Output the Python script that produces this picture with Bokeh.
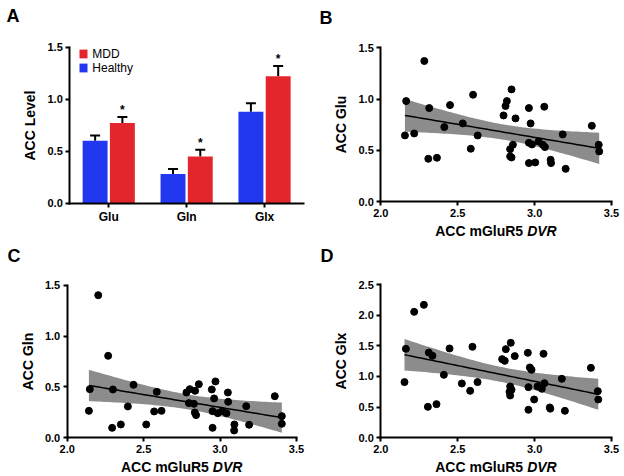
import numpy as np
from bokeh.plotting import figure
from bokeh.layouts import gridplot
from bokeh.models import (Range1d, FixedTicker, Whisker, TeeHead, ColumnDataSource,
                          Label, Legend, LegendItem, NumeralTickFormatter)
from bokeh.core.properties import value
from bokeh.embed import file_html
from bokeh.resources import INLINE

# ---------------- data ----------------
categories = ["Glu", "Gln", "Glx"]
healthy_mean = [0.60, 0.28, 0.88]
healthy_sem = [0.05, 0.05, 0.08]
mdd_mean = [0.77, 0.45, 1.22]
mdd_sem = [0.06, 0.065, 0.10]
significance = ["*", "*", "*"]

y_ticks_a = [0.0, 0.5, 1.0, 1.5]
x_ticks_scatter = [2.0, 2.5, 3.0, 3.5]
y_ticks_bc = [0.0, 0.5, 1.0, 1.5]
y_ticks_d = [0.0, 0.5, 1.0, 1.5, 2.0, 2.5]

glu_dvr = [2.283, 2.165, 2.157, 2.217, 2.315, 2.309, 2.365, 2.450, 2.413, 2.533,
           2.600, 2.630, 2.585, 2.850, 2.820, 2.811, 2.798, 2.876, 2.963, 2.974,
           3.063, 2.859, 2.841, 2.841, 2.850, 2.963, 2.983, 3.026, 3.054, 3.067,
           2.963, 3.004, 3.104, 3.107, 3.202, 3.183, 3.372, 3.417, 3.420]
glu_level = [1.371, 0.980, 0.645, 0.664, 0.912, 0.417, 0.427, 0.941, 0.726, 0.762,
             1.042, 0.645, 0.515, 1.094, 0.980, 0.932, 0.840, 0.811, 0.912, 0.762,
             0.925, 0.554, 0.511, 0.440, 0.430, 0.573, 0.557, 0.586, 0.554, 0.531,
             0.375, 0.381, 0.407, 0.375, 0.319, 0.655, 0.739, 0.554, 0.489]

gln_dvr = [2.203, 2.268, 2.148, 2.142, 2.299, 2.294, 2.351, 2.434, 2.397, 2.517,
           2.586, 2.569, 2.617, 2.780, 2.802, 2.837, 2.861, 2.796, 2.829, 2.835,
           2.843, 2.946, 2.970, 2.961, 2.951, 2.951, 2.985, 3.014, 3.042, 3.051,
           3.053, 3.094, 3.092, 3.171, 3.190, 3.358, 3.404, 3.404]
gln_level = [1.402, 0.806, 0.478, 0.265, 0.475, 0.098, 0.131, 0.521, 0.308, 0.131,
             0.452, 0.259, 0.265, 0.445, 0.478, 0.462, 0.527, 0.341, 0.334, 0.249,
             0.223, 0.475, 0.554, 0.387, 0.262, 0.098, 0.242, 0.262, 0.242, 0.445,
             0.354, 0.131, 0.072, 0.311, 0.128, 0.409, 0.213, 0.138]

glx_dvr = [2.280, 2.217, 2.163, 2.154, 2.312, 2.336, 2.306, 2.362, 2.447, 2.410,
           2.527, 2.596, 2.629, 2.581, 2.845, 2.813, 2.789, 2.806, 2.871, 2.956,
           2.969, 2.980, 3.058, 2.841, 2.850, 2.837, 2.841, 2.960, 3.019, 3.047,
           3.064, 2.997, 2.960, 3.099, 3.102, 3.197, 3.177, 3.366, 3.411, 3.414]
glx_level = [2.168, 2.054, 1.451, 0.908, 1.391, 1.337, 0.505, 0.549, 1.457, 1.027,
             0.886, 1.484, 0.908, 0.766, 1.549, 1.446, 1.283, 1.255, 1.332, 1.386,
             1.147, 1.109, 1.370, 0.837, 0.783, 0.750, 0.690, 0.826, 0.837, 0.799,
             0.891, 0.625, 0.457, 0.495, 0.475, 0.440, 0.962, 1.141, 0.761, 0.625]

# ---------------- style ----------------
FONT = "Liberation Sans"
RED = "#e3262b"
BLUE = "#2238f0"
BAND = "#8c8c8c"
T95 = 2.02
TICK_FS = "11px"
LABEL_FS = "14px"


def make_panel(W, H, box, xlim, ylim):
    """Figure whose frame is the whole canvas; the data box sits at `box` (l, t, r, b px)."""
    l, t, r, b = box
    sx = (r - l) / (xlim[1] - xlim[0])
    sy = (b - t) / (ylim[1] - ylim[0])
    xr = Range1d(xlim[0] - l / sx, xlim[1] + (W - r) / sx)
    yr = Range1d(ylim[0] - (H - b) / sy, ylim[1] + t / sy)
    p = figure(width=W, height=H, x_range=xr, y_range=yr, min_border=0,
               output_backend="svg", toolbar_location=None)
    p.xaxis.fixed_location = ylim[0]
    p.xaxis.bounds = xlim
    p.yaxis.fixed_location = xlim[0]
    p.yaxis.bounds = ylim
    for ax in (p.xaxis[0], p.yaxis[0]):
        ax.axis_line_width = 2
        ax.axis_line_color = "black"
        ax.axis_line_cap = "square"
        ax.major_tick_line_width = 2
        ax.major_tick_line_color = "black"
        ax.major_tick_out = 4
        ax.major_tick_in = 0
        ax.minor_tick_line_color = None
        ax.major_label_text_font = FONT
        ax.major_label_text_font_style = "bold"
        ax.major_label_text_font_size = TICK_FS
        ax.major_label_text_color = "black"
        ax.major_label_standoff = 3
        ax.axis_label_text_font = FONT
        ax.axis_label_text_font_style = "bold"
        ax.axis_label_text_font_size = LABEL_FS
        ax.axis_label_text_color = "black"
        ax.axis_label_standoff = 6
    p.xgrid.visible = False
    p.ygrid.visible = False
    p.outline_line_color = None
    p.background_fill_color = "white"
    p.border_fill_color = "white"
    return p


def panel_letter(p, H, letter, left, top):
    p.add_layout(Label(x=left, y=H - top + 3, x_units="screen", y_units="screen",
                       text=letter, text_font=FONT, text_font_style="bold",
                       text_font_size="18px", text_align="left", text_baseline="top",
                       text_color="black"))


# ---------------- panel A ----------------
WA, HA = 312, 238
boxA = (69.3, 46.7, 303.0, 202.7)
pA = make_panel(WA, HA, boxA, (0, len(categories)), (0, 1.5))
centers = np.arange(len(categories)) + 0.5
bw = 0.32
off = 0.175
h_src = ColumnDataSource(dict(x=centers - off, top=healthy_mean,
                              upper=np.array(healthy_mean) + np.array(healthy_sem)))
m_src = ColumnDataSource(dict(x=centers + off, top=mdd_mean,
                              upper=np.array(mdd_mean) + np.array(mdd_sem),
                              star=significance))
rh = pA.vbar(x="x", top="top", width=bw, source=h_src, fill_color=BLUE, line_color=None)
rm = pA.vbar(x="x", top="top", width=bw, source=m_src, fill_color=RED, line_color=None)
for src in (h_src, m_src):
    pA.add_layout(Whisker(base="x", upper="upper", lower="top", source=src,
                          dimension="height", line_width=2, line_color="black",
                          upper_head=TeeHead(size=10, line_width=2, line_color="black"),
                          lower_head=None))
pA.text(x="x", y="upper", text="star", source=m_src, text_align="center",
        text_baseline="middle", y_offset=-7, text_font=value(FONT),
        text_font_style="bold", text_font_size="12px", text_color="black")
pA.xaxis.ticker = FixedTicker(ticks=list(centers))
pA.xaxis.major_label_overrides = {float(c): n for c, n in zip(centers, categories)}
pA.xaxis.major_label_text_font_size = "12px"
pA.yaxis.ticker = FixedTicker(ticks=y_ticks_a)
pA.yaxis.formatter = NumeralTickFormatter(format="0.0")
pA.yaxis.axis_label = "ACC Level"
legend = Legend(items=[LegendItem(label="MDD", renderers=[rm]),
                       LegendItem(label="Healthy", renderers=[rh])],
                location=(boxA[0] + 9, HA - boxA[1] - 28), margin=0, padding=0, spacing=0,
                glyph_width=10, glyph_height=11, label_height=11, label_standoff=4,
                label_text_font=FONT, label_text_font_size="12px",
                label_text_color="black", border_line_color=None,
                background_fill_alpha=0)
pA.add_layout(legend)
panel_letter(pA, HA, "A", 6, 8)


# ---------------- scatter panels ----------------
def scatter_panel(W, H, box, xs, ys, y_max, yticks, ylabel, letter, letter_pos):
    p = make_panel(W, H, box, (2.0, 3.5), (0.0, y_max))
    x = np.array(xs)
    y = np.array(ys)
    n = len(x)
    slope, icpt = np.polyfit(x, y, 1)
    resid = y - (slope * x + icpt)
    s = np.sqrt(np.sum(resid ** 2) / (n - 2))
    sxx = np.sum((x - x.mean()) ** 2)
    gx = np.linspace(x.min(), x.max(), 60)
    gy = slope * gx + icpt
    half = T95 * s * np.sqrt(1.0 / n + (gx - x.mean()) ** 2 / sxx)
    p.varea(x=gx, y1=gy - half, y2=gy + half, fill_color=BAND, fill_alpha=1.0)
    p.line(gx, gy, line_color="black", line_width=1.5)
    p.scatter(x, y, size=7, fill_color="black", line_color="black")
    p.xaxis.ticker = FixedTicker(ticks=x_ticks_scatter)
    p.xaxis.formatter = NumeralTickFormatter(format="0.0")
    p.yaxis.ticker = FixedTicker(ticks=yticks)
    p.yaxis.formatter = NumeralTickFormatter(format="0.0")
    p.yaxis.axis_label = ylabel
    l, t, r, b = box
    cx = (l + r) / 2
    ly = H - (b + 21)
    p.add_layout(Label(x=cx + 27, y=ly, x_units="screen", y_units="screen",
                       text="ACC mGluR5", text_font=FONT, text_font_style="bold",
                       text_font_size=LABEL_FS, text_align="right", text_baseline="top",
                       text_color="black"))
    p.add_layout(Label(x=cx + 31, y=ly, x_units="screen", y_units="screen",
                       text="DVR", text_font=FONT, text_font_style="bold italic",
                       text_font_size=LABEL_FS, text_align="left", text_baseline="top",
                       text_color="black"))
    panel_letter(p, H, letter, letter_pos[0], letter_pos[1])
    return p


pB = scatter_panel(310, 238, (68.3, 47.3, 299.0, 201.0), glu_dvr, glu_level, 1.5,
                   y_ticks_bc, "ACC Glu", "B", (7, 10))
pC = scatter_panel(312, 236, (66.7, 46.7, 296.0, 199.3), gln_dvr, gln_level, 1.5,
                   y_ticks_bc, "ACC Gln", "C", (7, 10))
pD = scatter_panel(310, 236, (68.3, 46.0, 299.0, 199.3), glx_dvr, glx_level, 2.5,
                   y_ticks_d, "ACC Glx", "D", (8, 10))

grid = gridplot([[pA, pB], [pC, pD]], toolbar_location=None)

open("out.html", "w").write(file_html(grid, INLINE))
